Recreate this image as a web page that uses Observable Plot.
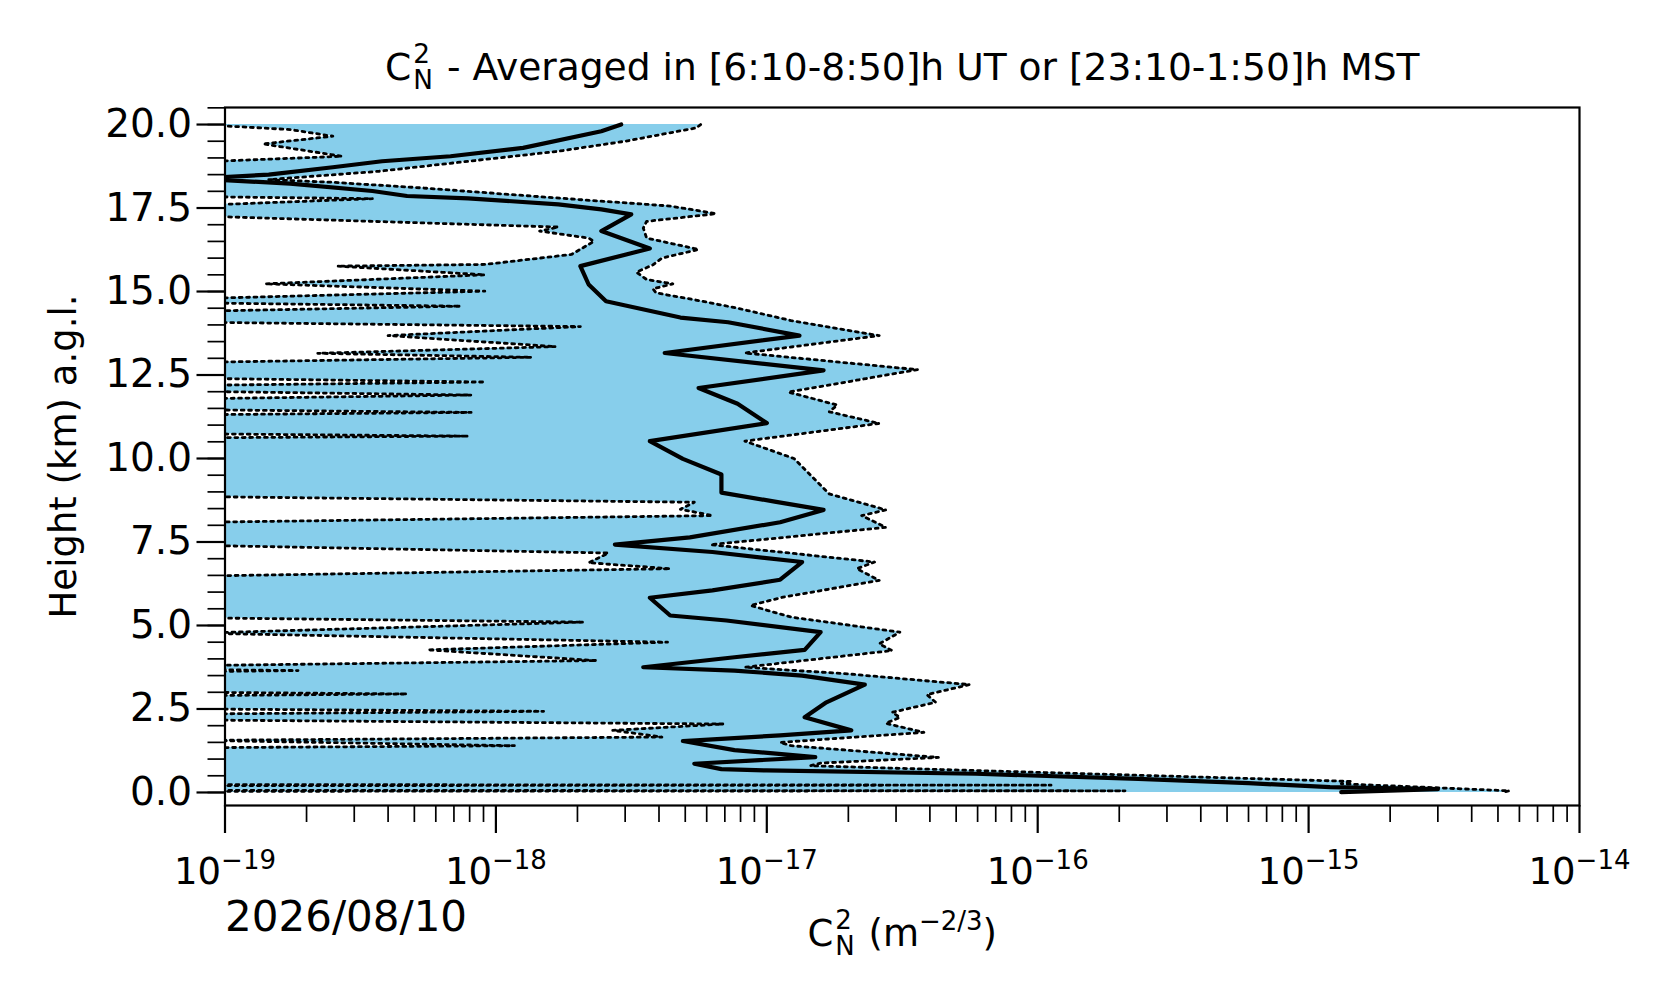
<!DOCTYPE html>
<html>
<head>
<meta charset="utf-8">
<script src="https://cdn.jsdelivr.net/npm/d3@7"></script>
<script src="https://cdn.jsdelivr.net/npm/@observablehq/plot@0.6"></script>
<style>
  html, body { margin: 0; padding: 0; background: #ffffff; }
  #chart svg { display: block; }
</style>
</head>
<body>
<div id="chart"></div>
<script>
// ---------------- data ----------------
// heights in km a.g.l.; values in m^-2/3
const meanHeights = [20.0, 19.8, 19.3, 19.05, 18.9, 18.72, 18.5, 18.38, 18.23, 18.01,
  17.86, 17.79, 17.61, 17.46, 17.31, 16.81, 16.29, 15.76, 15.21, 14.71,
  14.22, 14.08, 13.68, 13.16, 12.64, 12.11, 11.64, 11.06, 10.52, 9.99,
  9.52, 8.98, 8.71, 8.46, 8.09, 7.64, 7.42, 7.2, 6.9, 6.37,
  6.05, 5.83, 5.3, 5.15, 4.8, 4.27, 4.05, 3.75, 3.65, 3.5,
  3.23, 2.7, 2.25, 1.86, 1.71, 1.54, 1.27, 1.06, 0.86, 0.7,
  0.66, 0.56, 0.41, 0.28, 0.16, 0.1, 0.01];
const meanValues = [2.9e-18, 2.45e-18, 1.26e-18, 6.8e-19, 3.8e-19, 2.5e-19, 1.45e-19, 7.9e-20, 1.74e-19, 3.5e-19,
  4.7e-19, 7.9e-19, 1.7e-18, 2.45e-18, 3.16e-18, 2.45e-18, 3.7e-18, 2.05e-18, 2.2e-18, 2.55e-18,
  4.8e-18, 7.2e-18, 1.32e-17, 4.2e-18, 1.62e-17, 5.6e-18, 7.8e-18, 1.0e-17, 3.7e-18, 4.9e-18,
  6.8e-18, 6.8e-18, 1.07e-17, 1.62e-17, 1.12e-17, 5.2e-18, 2.75e-18, 6.3e-18, 1.35e-17, 1.12e-17,
  6.3e-18, 3.7e-18, 4.4e-18, 7.1e-18, 1.58e-17, 1.38e-17, 7.6e-18, 3.5e-18, 7.6e-18, 1.35e-17,
  2.3e-17, 1.66e-17, 1.38e-17, 2.05e-17, 1.12e-17, 4.9e-18, 7.6e-18, 1.51e-17, 5.4e-18, 6.8e-18,
  1.0e-17, 5.9e-17, 2.35e-16, 6.0e-16, 1.2e-15, 3.0e-15, 1.32e-15];

const upperHeights = [20.0, 19.9, 19.5, 19.2, 18.9, 18.6, 18.4, 18.35, 18.27, 18.1,
  17.9, 17.7, 17.56, 17.33, 17.1, 16.9, 16.6, 16.26, 16.0, 15.8,
  15.58, 15.36, 15.23, 15.08, 14.96, 14.73, 14.5, 14.13, 13.68, 13.16,
  12.66, 11.99, 11.6, 11.4, 11.05, 10.52, 10.0, 9.5, 8.94, 8.46,
  8.29, 7.94, 7.42, 6.9, 6.7, 6.35, 5.85, 5.6, 5.25, 4.8,
  4.45, 4.25, 3.75, 3.55, 3.23, 2.93, 2.7, 2.4, 2.25, 2.07,
  1.8, 1.5, 1.4, 1.05, 0.88, 0.8, 0.33, 0.26, 0.05, 0.0];
const upperValues = [5.7e-18, 5.5e-18, 3.0e-18, 1.7e-18, 7.9e-19, 3.7e-19, 1.74e-19, 1.45e-19, 2.5e-19, 5.4e-19,
  1.15e-18, 2.5e-18, 4.4e-18, 6.5e-18, 3.6e-18, 3.5e-18, 3.6e-18, 5.6e-18, 4.1e-18, 3.8e-18,
  3.3e-18, 3.6e-18, 4.5e-18, 3.8e-18, 3.9e-18, 5.6e-18, 7.8e-18, 1.23e-17, 2.6e-17, 8.3e-18,
  3.6e-17, 1.2e-17, 1.82e-17, 1.7e-17, 2.6e-17, 8.3e-18, 1.26e-17, 1.45e-17, 1.7e-17, 2.75e-17,
  2.24e-17, 2.75e-17, 6.2e-18, 2.5e-17, 2.15e-17, 2.6e-17, 1.15e-17, 8.7e-18, 1.23e-17, 3.1e-17,
  2.6e-17, 2.9e-17, 8.3e-18, 2.0e-17, 5.6e-17, 3.9e-17, 4.2e-17, 2.9e-17, 3.1e-17, 2.75e-17,
  3.8e-17, 1.12e-17, 1.23e-17, 4.3e-17, 1.58e-17, 1.45e-17, 1.45e-15, 1.32e-15, 5.5e-15, 5.2e-15];

// lower bound: 8e-20 marks points that fall just below the left edge of the axis
const lowerHeights = [20.0, 19.85, 19.65, 19.42, 19.05, 18.88, 17.84, 17.78, 17.58, 17.26,
  16.93, 16.81, 16.6, 16.5, 16.11, 15.81, 15.76, 15.5, 15.23, 15.01,
  14.79, 14.66, 14.56, 14.41, 14.08, 13.95, 13.68, 13.35, 13.15, 13.03,
  12.88, 12.4, 12.29, 12.19, 12.01, 11.9, 11.79, 11.46, 11.38, 11.31,
  10.74, 10.67, 10.62, 8.86, 8.69, 8.48, 8.29, 8.09, 7.4, 7.17,
  6.88, 6.7, 6.48, 5.23, 5.1, 4.77, 4.5, 4.27, 3.95, 3.8,
  3.68, 3.65, 3.62, 3.0, 2.95, 2.9, 2.5, 2.43, 2.35, 2.17,
  2.05, 1.86, 1.66, 1.56, 1.4, 1.34, 0.235, 0.22, 0.205, 0.065,
  0.05, 0.035];
const lowerValues = [8e-20, 1.74e-19, 2.5e-19, 1.38e-19, 2.7e-19, 8e-20, 8e-20, 3.5e-19, 8e-20, 8e-20,
  1.7e-18, 1.45e-18, 2.2e-18, 2.3e-18, 1.9e-18, 9.1e-19, 2.6e-19, 9.1e-19, 1.41e-19, 9.1e-19,
  8e-20, 8e-20, 7.4e-19, 8e-20, 8e-20, 2.05e-18, 4.0e-19, 1.66e-18, 2.2e-19, 1.35e-18,
  8e-20, 8e-20, 9.1e-19, 8e-20, 8e-20, 8.1e-19, 8e-20, 8e-20, 8.1e-19, 8e-20,
  8e-20, 7.9e-19, 8e-20, 8e-20, 5.4e-18, 4.8e-18, 6.3e-18, 8e-20, 8e-20, 2.6e-18,
  2.2e-18, 4.4e-18, 8e-20, 8e-20, 2.1e-18, 8e-20, 4.3e-18, 5.6e-19, 2.35e-18, 8e-20,
  8e-20, 1.86e-19, 8e-20, 8e-20, 4.7e-19, 8e-20, 8e-20, 1.5e-18, 8e-20, 8e-20,
  6.9e-18, 2.7e-18, 4.1e-18, 8e-20, 1.17e-18, 8e-20, 8e-20, 1.12e-16, 8e-20, 8e-20,
  2.1e-16, 8e-20];

// ticks and labels
const yMajorTicks = [0, 2.5, 5, 7.5, 10, 12.5, 15, 17.5, 20];
const yTickLabels = ["0.0", "2.5", "5.0", "7.5", "10.0", "12.5", "15.0", "17.5", "20.0"];
const xMajorTicks = [1e-19, 1e-18, 1e-17, 1e-16, 1e-15, 1e-14];
const xTickExponents = ["\u221219", "\u221218", "\u221217", "\u221216", "\u221215", "\u221214"];
const titleParts = {main: "C", sup: "2", sub: "N", rest: " - Averaged in [6:10-8:50]h UT or [23:10-1:50]h MST"};
const xLabelParts = {main: "C", sup: "2", sub: "N", open: " (m", exp: "\u22122/3", close: ")"};
const yLabelText = "Height (km) a.g.l.";
const dateLabel = "2026/08/10";

// minor ticks (axis decoration)
const yMinorTicks = [];
for (let k = 0; k <= 41; k++) yMinorTicks.push(k * 0.5);
const xMinorTicks = [];
for (let e = -19; e < -14; e++) for (let m = 2; m <= 9; m++) xMinorTicks.push(m * Math.pow(10, e));

// ---------------- layout ----------------
const FIG_W = 1676, FIG_H = 1003;
const M_LEFT = 224.5, F_RIGHT = 1579, M_TOP = 107, F_BOTTOM = 805;
const FONT = "DejaVu Sans";
const FS = 37, FS_TITLE = 37.6, FS_YTICK = 39, FS_SMALL = 26, FS_DATE = 42;
const FLOOR = 1e-25;
const GAP = 2;

const measureCtx = document.createElement("canvas").getContext("2d");
const tw = (s, size) => { measureCtx.font = `${size}px "${FONT}"`; return measureCtx.measureText(s).width; };

const rowsOf = (hs, vs) => hs.map((h, i) => ({h, v: vs[i]}));
const meanRows = rowsOf(meanHeights, meanValues);
const upperRows = rowsOf(upperHeights, upperValues);
const lowerRows = rowsOf(lowerHeights, lowerValues);

// stacked superscript over subscript as one two-line text (sup line above, sub line below)
const stacked = (sup, sub) => `${sup}\n${sub}`;

// title geometry
const FS_TSMALL = FS_TITLE * 0.7;
const tC = tw(titleParts.main, FS_TITLE);
const tSS = Math.max(tw(titleParts.sup, FS_TSMALL), tw(titleParts.sub, FS_TSMALL));
const tR = tw(titleParts.rest, FS_TITLE);
const tStart = -(tC + tSS + tR + 2 * GAP) / 2;
const titleBase = 79 - M_TOP;

// x label geometry
const lC = tw(xLabelParts.main, FS);
const lSS = Math.max(tw(xLabelParts.sup, FS_SMALL), tw(xLabelParts.sub, FS_SMALL));
const lO = tw(xLabelParts.open, FS);
const lE = tw(xLabelParts.exp, FS_SMALL);
const lCl = tw(xLabelParts.close, FS);
const lStart = -(lC + lSS + lO + lE + lCl + 2 * GAP) / 2;
const xLabelBase = 945 - F_BOTTOM;

// x tick label geometry
const w10 = tw("10", FS);
const wExp = tw(xTickExponents[0], FS_SMALL);
const tickShift = (w10 - wExp) / 2;
const tickBase = 883 - F_BOTTOM;

const txt = (s, o) => Plot.text([s], {text: d => d, fill: "black", ...o});

const chart = Plot.plot({
  width: FIG_W,
  height: FIG_H,
  marginLeft: M_LEFT,
  marginRight: FIG_W - F_RIGHT,
  marginTop: M_TOP,
  marginBottom: FIG_H - F_BOTTOM,
  x: {type: "log", domain: [1e-19, 1e-14], label: null},
  y: {domain: [-0.39, 20.51], label: null},
  style: {fontFamily: FONT, background: "white", color: "black"},
  marks: [
    Plot.areaX(upperRows, {y: "h", x1: FLOOR, x2: "v", fill: "#87CEEB", clip: true}),
    Plot.areaX(lowerRows, {y: "h", x1: FLOOR, x2: "v", fill: "white", clip: true}),
    Plot.lineX(lowerRows, {x: "v", y: "h", stroke: "black", strokeWidth: 2.8, strokeDasharray: "2.8,4.6", clip: true}),
    Plot.lineX(upperRows, {x: "v", y: "h", stroke: "black", strokeWidth: 2.8, strokeDasharray: "2.8,4.6", clip: true}),
    Plot.lineX(meanRows, {x: "v", y: "h", stroke: "black", strokeWidth: 4.2, strokeLinejoin: "round", clip: true}),
    Plot.frame({stroke: "black", strokeWidth: 2.2}),
    Plot.axisY(yMinorTicks, {anchor: "left", tickSize: 17, stroke: "black", strokeWidth: 1.7, fill: "none", tickFormat: () => "", label: null}),
    Plot.axisY(yMajorTicks, {anchor: "left", tickSize: 28, stroke: "black", strokeWidth: 2.2, fill: "none", tickFormat: () => "", label: null}),
    Plot.axisX(xMinorTicks, {anchor: "bottom", tickSize: 17, stroke: "black", strokeWidth: 1.7, fill: "none", tickFormat: () => "", label: null}),
    Plot.axisX(xMajorTicks, {anchor: "bottom", tickSize: 28, stroke: "black", strokeWidth: 2.2, fill: "none", tickFormat: () => "", label: null}),
    // y tick labels
    Plot.text(yMajorTicks, {y: d => d, text: (d, i) => yTickLabels[i], frameAnchor: "left", textAnchor: "end", lineAnchor: "middle", dx: -33, fontSize: FS_YTICK, fill: "black"}),
    // x tick labels: 10 with superscript exponent
    Plot.text(xMajorTicks, {x: d => d, text: () => "10", frameAnchor: "bottom", textAnchor: "end", lineAnchor: "bottom", dx: tickShift, dy: tickBase, fontSize: FS, fill: "black"}),
    Plot.text(xMajorTicks, {x: d => d, text: (d, i) => xTickExponents[i], frameAnchor: "bottom", textAnchor: "start", lineAnchor: "bottom", dx: tickShift, dy: tickBase - 15, fontSize: FS_SMALL, fill: "black"}),
    // title
    txt(titleParts.main, {frameAnchor: "top", textAnchor: "start", lineAnchor: "bottom", dx: tStart, dy: titleBase, fontSize: FS_TITLE}),
    txt(stacked(titleParts.sup, titleParts.sub), {frameAnchor: "top", textAnchor: "start", lineAnchor: "bottom", lineHeight: 26 / FS_TSMALL, dx: tStart + tC + GAP, dy: titleBase + 9, fontSize: FS_TSMALL}),
    txt(titleParts.rest, {frameAnchor: "top", textAnchor: "start", lineAnchor: "bottom", dx: tStart + tC + tSS + 2 * GAP, dy: titleBase, fontSize: FS_TITLE}),
    // x label
    txt(xLabelParts.main, {frameAnchor: "bottom", textAnchor: "start", lineAnchor: "bottom", dx: lStart, dy: xLabelBase, fontSize: FS}),
    txt(stacked(xLabelParts.sup, xLabelParts.sub), {frameAnchor: "bottom", textAnchor: "start", lineAnchor: "bottom", lineHeight: 1, dx: lStart + lC + GAP, dy: xLabelBase + 9, fontSize: FS_SMALL}),
    txt(xLabelParts.open, {frameAnchor: "bottom", textAnchor: "start", lineAnchor: "bottom", dx: lStart + lC + lSS + 2 * GAP, dy: xLabelBase, fontSize: FS}),
    txt(xLabelParts.exp, {frameAnchor: "bottom", textAnchor: "start", lineAnchor: "bottom", dx: lStart + lC + lSS + lO + 2 * GAP, dy: xLabelBase - 16, fontSize: FS_SMALL}),
    txt(xLabelParts.close, {frameAnchor: "bottom", textAnchor: "start", lineAnchor: "bottom", dx: lStart + lC + lSS + lO + lE + 2 * GAP, dy: xLabelBase, fontSize: FS}),
    // y label
    txt(yLabelText, {frameAnchor: "left", rotate: -90, textAnchor: "middle", lineAnchor: "bottom", dx: 75 - M_LEFT, fontSize: FS}),
    // date
    txt(dateLabel, {frameAnchor: "bottom-left", textAnchor: "start", lineAnchor: "bottom", dy: 930 - F_BOTTOM, fontSize: FS_DATE})
  ]
});
document.getElementById("chart").appendChild(chart);
</script>
</body>
</html>
